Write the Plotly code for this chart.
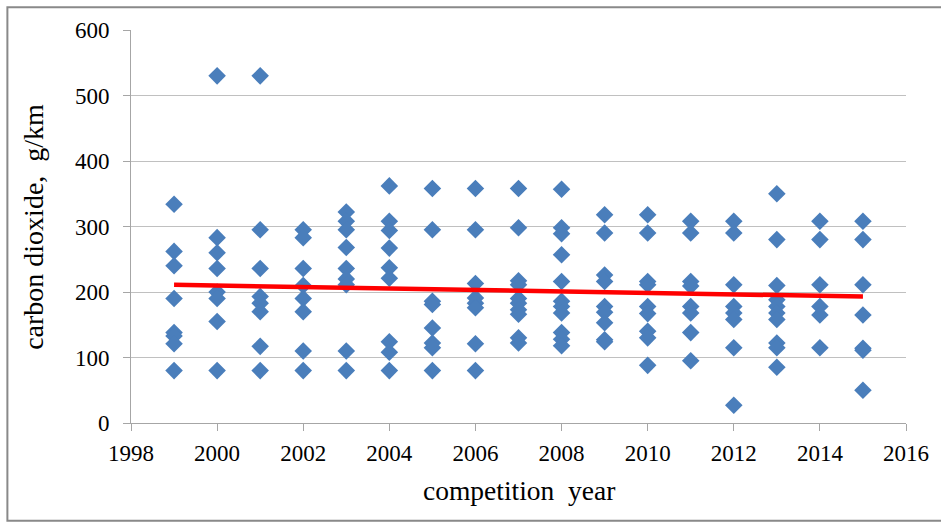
import plotly.graph_objects as go

# CO2 emissions (g/km) of entries, grouped by competition year
years = list(range(1999, 2016))
co2_1999 = [334, 262, 240, 190, 138, 133, 121, 80]
co2_2000 = [530, 283, 260, 236, 200, 190, 155, 80]
co2_2001 = [530, 295, 236, 193, 183, 170, 117, 80]
co2_2002 = [295, 283, 236, 210, 190, 170, 110, 80]
co2_2003 = [322, 308, 295, 268, 236, 220, 211, 110, 80]
co2_2004 = [362, 308, 294, 267, 237, 221, 124, 108, 80]
co2_2005 = [358, 295, 186, 181, 145, 122, 115, 80]
co2_2006 = [358, 295, 213, 191, 183, 176, 121, 80]
co2_2007 = [358, 298, 217, 211, 190, 183, 173, 166, 130, 122]
co2_2008 = [357, 298, 289, 257, 216, 186, 178, 168, 138, 128, 118]
co2_2009 = [318, 290, 226, 216, 178, 169, 153, 127, 124]
co2_2010 = [318, 290, 216, 211, 178, 167, 140, 130, 88]
co2_2011 = [308, 290, 216, 209, 178, 168, 138, 95]
co2_2012 = [308, 290, 211, 178, 168, 158, 115, 27]
co2_2013 = [350, 280, 210, 188, 178, 168, 158, 122, 115, 85]
co2_2014 = [308, 280, 211, 178, 165, 115]
co2_2015 = [308, 280, 211, 165, 114, 111, 50]

# linear trend line: value at first and last competition year
trend_years = [1999, 2015]
trend_values = [211, 193]

by_year = [co2_1999, co2_2000, co2_2001, co2_2002, co2_2003, co2_2004,
           co2_2005, co2_2006, co2_2007, co2_2008, co2_2009, co2_2010,
           co2_2011, co2_2012, co2_2013, co2_2014, co2_2015]

xs = [y for y, vals in zip(years, by_year) for _ in vals]
ys = [v for vals in by_year for v in vals]

x_ticks = list(range(1998, 2017, 2))
y_ticks = list(range(0, 601, 100))

FONT = "Liberation Serif"

fig = go.Figure()
fig.add_trace(go.Scatter(
    x=xs, y=ys, mode="markers",
    marker=dict(symbol="diamond", size=13.5, color="#4a7ebb", line=dict(width=0)),
    showlegend=False, hoverinfo="x+y",
))
fig.add_trace(go.Scatter(
    x=trend_years, y=trend_values, mode="lines",
    line=dict(color="#ff0000", width=4.5),
    showlegend=False, hoverinfo="skip",
))

fig.update_layout(
    width=941, height=526,
    margin=dict(l=131, r=35, t=30, b=103),
    paper_bgcolor="white", plot_bgcolor="white",
    font=dict(family=FONT, size=23, color="black"),
    xaxis=dict(
        range=[1998, 2016], tickvals=x_ticks, ticktext=[str(t) for t in x_ticks],
        showgrid=False, zeroline=False,
        showline=True, linecolor="#a6a6a6", linewidth=1,
        ticks="outside", ticklen=7, tickcolor="#a6a6a6", tickwidth=1,
        ticklabelstandoff=2,
        tickfont=dict(family=FONT, size=23, color="black"),
    ),
    yaxis=dict(
        range=[0, 600], tickvals=y_ticks, ticktext=[str(t) for t in y_ticks],
        showgrid=True, gridcolor="#c0c0c0", gridwidth=1, zeroline=False,
        showline=True, linecolor="#a6a6a6", linewidth=1,
        ticks="outside", ticklen=7, tickcolor="#a6a6a6", tickwidth=1,
        ticklabelstandoff=9,
        tickfont=dict(family=FONT, size=23, color="black"),
    ),
    annotations=[
        dict(text="competition  year", xref="paper", yref="paper",
             x=0.5, y=-0.173, xanchor="center", yanchor="middle",
             showarrow=False, font=dict(family=FONT, size=27.5, color="black")),
        dict(text="carbon dioxide,  g/km", xref="paper", yref="paper",
             x=-0.126, y=0.5, xanchor="center", yanchor="middle", textangle=-90,
             showarrow=False, font=dict(family=FONT, size=28, color="black")),
    ],
    shapes=[
        dict(type="rect", xref="paper", yref="paper",
             x0=-0.1595, x1=1.06, y0=-0.249, y1=1.058,
             line=dict(color="#898989", width=2), fillcolor="rgba(0,0,0,0)",
             layer="below"),
    ],
)

fig.write_html("out.html")
